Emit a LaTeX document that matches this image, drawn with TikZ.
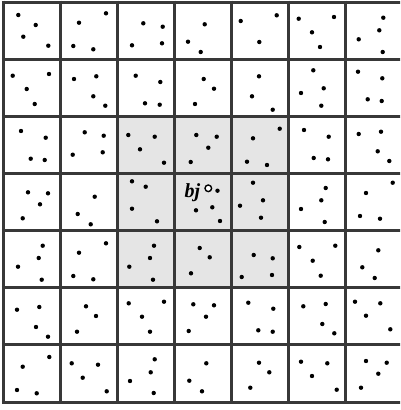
\documentclass[tikz,border=0pt]{standalone}
\usepackage{fontspec}
\newfontfamily\labfont{Liberation Serif}
\begin{document}
\begin{tikzpicture}[x=1pt,y=-1pt,
  gridline/.style={line width=3pt,draw=black!78},
  pt/.style={fill=black},
  shade/.style={fill=black!10}]
\useasboundingbox (0,0) rectangle (400,410);
\fill[white] (0,0) rectangle (400,410);
\begin{scope}
\clip (0,0) rectangle (400,410);
\fill[shade] (117.5,116.2) rectangle (289.0,287.5);
\foreach \k in {0,...,7}{
  \draw[gridline] (3.3+57.1*\k,0.5) -- (3.3+57.1*\k,402.2);
  \draw[gridline] (1.8,2+57.15*\k) -- (405,2+57.15*\k);
}
\foreach \x/\y in {
18.3/15,35.7/25,23.3/36.7,48.3/45.7,
106/13.3,79/22.7,73.3/46,93.3/49.3,
143.3/23.3,162.7/26.7,132/45.3,162/43.3,
204.7/24.3,188/41.7,200.7/52,
240.7/21,276.7/15.3,259.3/42,
298.7/18.7,334/17,312/32.3,320/47,
383.3/17.7,379.3/30.3,358.7/39.3,382.7/52,
12.7/75.7,49/74,26.7/89,34.7/104,
74/79,96.3/76.3,93.3/96.3,105.3/105.7,
135.7/75.7,160.3/82,145/103.3,159.7/104.7,
203.7/79,214/88.7,195/104,
259/76.3,252/96.3,272.7/109.7,
313.3/70.3,323.7/88.3,301/93,321.3/105.7,
358/71.7,382.3/78.3,367.7/99.3,381.7/101,
21/131,45.7/137.7,30.7/158.7,44.7/160,
84.7/132.3,103.7/135.7,72.7/154.7,102.7/152.3,
128.3/135,154.7/136.7,140/149.3,164/162.7,
196.3/135,216.7/136.7,208.3/147.7,190.7/162,
279.7/128.7,253/138.3,247/161.7,267/165,
304/130,328.7/136.7,313.7/158,328/159.3,
358.7/134,381/131.7,377.7/151.3,389.3/161,
28/192.3,48/193.3,40/204.3,22.7/218.3,
94.7/196.7,77.7/214,90.7/224.3,
132/181.3,145.7/186.7,132/208.7,157/221.3,
217.5/190.7,196/210.3,212.3/207.3,220/221,
253/182.7,263/200.3,240/205.7,261/217.7,
325.7/188,321.3/200.3,301/209,324.7/222,
392.7/182.7,366/193,360/216,380/218.7,
42.7/245.7,38.7/258,18/266.7,41.7/279.7,
106/243.3,79/252.7,73.3/276,93.3/279.3,
154/245.7,150/258,129.3/266.7,153/279.7,
199.7/248,209.7/257.3,191/273.3,
253.7/255,272.7/258.3,241.7/277,272/275,
299.3/247,335.3/245.7,312.7/260.7,320.7/275.7,
378.3/250.3,362.3/267.3,374.7/278,
17/309.7,39.3/307,36/327,48/336.7,
86/306.3,96/316,77/331.7,
128.7/303.3,164/301.7,142/316.7,150/331.7,
193.3/304.3,214/305.3,206/316.7,188.7/331,
248.3/302.7,273.3/308.7,258.3/330.3,272.7/331.7,
303.3/306.3,325.7/304,322.3/324,334.3/333.3,
355/301.7,380.3/303.3,366/315.7,390.3/329.3,
49.3/357,22.7/366.7,17/390,36.7/393.3,
71.7/363.3,98/364.7,82.7/377.7,106.7/391.3,
154.7/359.3,150.7/372.3,130/381,153.7/393,
206.3/363.3,189.3/380.7,202/391.3,
259/362.7,269.3/372.3,250.3/387.7,
301/361.7,327.3/363.3,312/376,336.7/389.7,
366/361,386.7/362.7,378.3/373.7,361/387.7}{
  \fill[pt] (\x,\y) circle (2.2);
}
\end{scope}
\draw[line width=1.4pt,fill=white] (208.3,188.3) circle (3.3);
\node[anchor=base east,inner sep=0pt,font=\labfont\fontsize{20}{20}\selectfont\bfseries\itshape] (lab) at (200.5,197.5) {bj};
\end{tikzpicture}
\end{document}
